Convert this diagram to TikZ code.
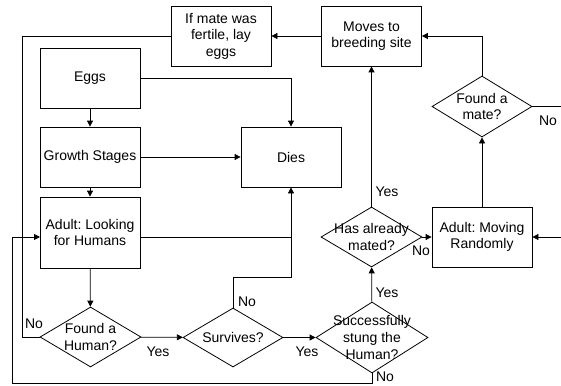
\documentclass[tikz,border=0pt]{standalone}
\usepackage{fontspec}
\setmainfont{Liberation Sans}
\usetikzlibrary{shapes.geometric,arrows.meta}
\newcommand{\flowfont}{\fontsize{14}{16.6}\selectfont}
\frenchspacing
\begin{document}
\begin{tikzpicture}[x=1pt,y=-1pt,
  line/.style={line width=0.8pt, draw=black},
  arr/.style={line, -{Triangle[length=6pt,width=6pt]}},
  box/.style={line, rectangle, minimum width=100pt, minimum height=60pt, inner sep=0pt, align=center, font=\flowfont},
  dia/.style={line, diamond, inner sep=0pt},
  txt/.style={align=center, font=\flowfont, inner sep=0pt},
  lbl/.style={font=\flowfont, inner sep=0pt}]
\useasboundingbox (0,0) rectangle (561,385);
% boxes
\node[box] (lay) at (221,36) {If mate was\\fertile, lay\\eggs};
\node[box] (moves) at (371.5,36) {Moves to\\breeding site};
\node[box] (eggs) at (90,78) {Eggs};
\node[box] (grow) at (90,157) {Growth Stages};
\node[box] (dies) at (291,157) {Dies};
\node[box, minimum height=71pt] (look) at (90,232.5) {Adult: Looking\\for Humans};
\node[box] (rand) at (482,237) {Adult: Moving\\Randomly};
% diamonds
\node[dia, minimum width=100pt, minimum height=61pt] (mate) at (482,106.5) {};
\node[txt] at (mate.center) {Found a\\mate?};
\node[dia, minimum width=101pt, minimum height=60pt] (mated) at (371.5,237) {};
\node[txt] at (mated.center) {Has already\\mated?};
\node[dia, minimum width=112pt, minimum height=71pt] (stung) at (372,337.5) {};
\node[txt] at (stung.center) {Successfully\\stung the\\Human?};
\node[dia, minimum width=101pt, minimum height=60pt] (human) at (90.5,337) {};
\node[txt] at (human.center) {Found a\\Human?};
\node[dia, minimum width=100pt, minimum height=59pt] (surv) at (233,337.5) {};
\node[txt] at (surv.center) {Survives?};
% helper coordinates
\coordinate (lookin) at (40,237);
\coordinate (lookout) at (140,237);
\coordinate (sj) at (291,277);
\coordinate (lt) at (22,36);
\coordinate (lb) at (22,337);
\coordinate (ob) at (12,383);
\coordinate (ot) at (12,237);
\coordinate (sb) at (372,383);
\coordinate (redge) at (561,237);
\coordinate (medge) at (561,106.5);
% connectors
\draw[arr] (eggs.east) -| (dies.north);
\draw[arr] (eggs) -- (grow);
\draw[arr] (grow) -- (dies);
\draw[arr] (grow) -- (look);
\draw[arr] (look) -- (human);
\draw[line] (lookout) -- (dies.south |- lookout);
\draw[arr] (surv.north) |- (sj) -- (dies.south);
\draw[arr] (human) -- (surv);
\draw[arr] (surv) -- (stung);
\draw[arr] (stung) -- (mated);
\draw[arr] (mated) -- (moves);
\draw[arr] (mated) -- (rand);
\draw[arr] (rand) -- (mate);
\draw[arr] (mate.north) |- (moves.east);
\draw[arr] (moves) -- (lay);
\draw[line] (mate.east) -- (medge);
\draw[arr] (redge) -- (rand.east);
\draw[line] (lay.west) -- (lt) -- (lb) -- (human.west);
\draw[arr] (stung.south) -- (sb) -- (ob) -- (ot) -- (lookin);
% labels
\node[lbl] at (158,352) {Yes};
\node[lbl] at (307,352) {Yes};
\node[lbl] at (387,293) {Yes};
\node[lbl] at (387,192) {Yes};
\node[lbl] at (421,251) {No};
\node[lbl] at (548,121) {No};
\node[lbl] at (34,324) {No};
\node[lbl] at (247,302) {No};
\node[lbl] at (385,377) {No};
\end{tikzpicture}
\end{document}
